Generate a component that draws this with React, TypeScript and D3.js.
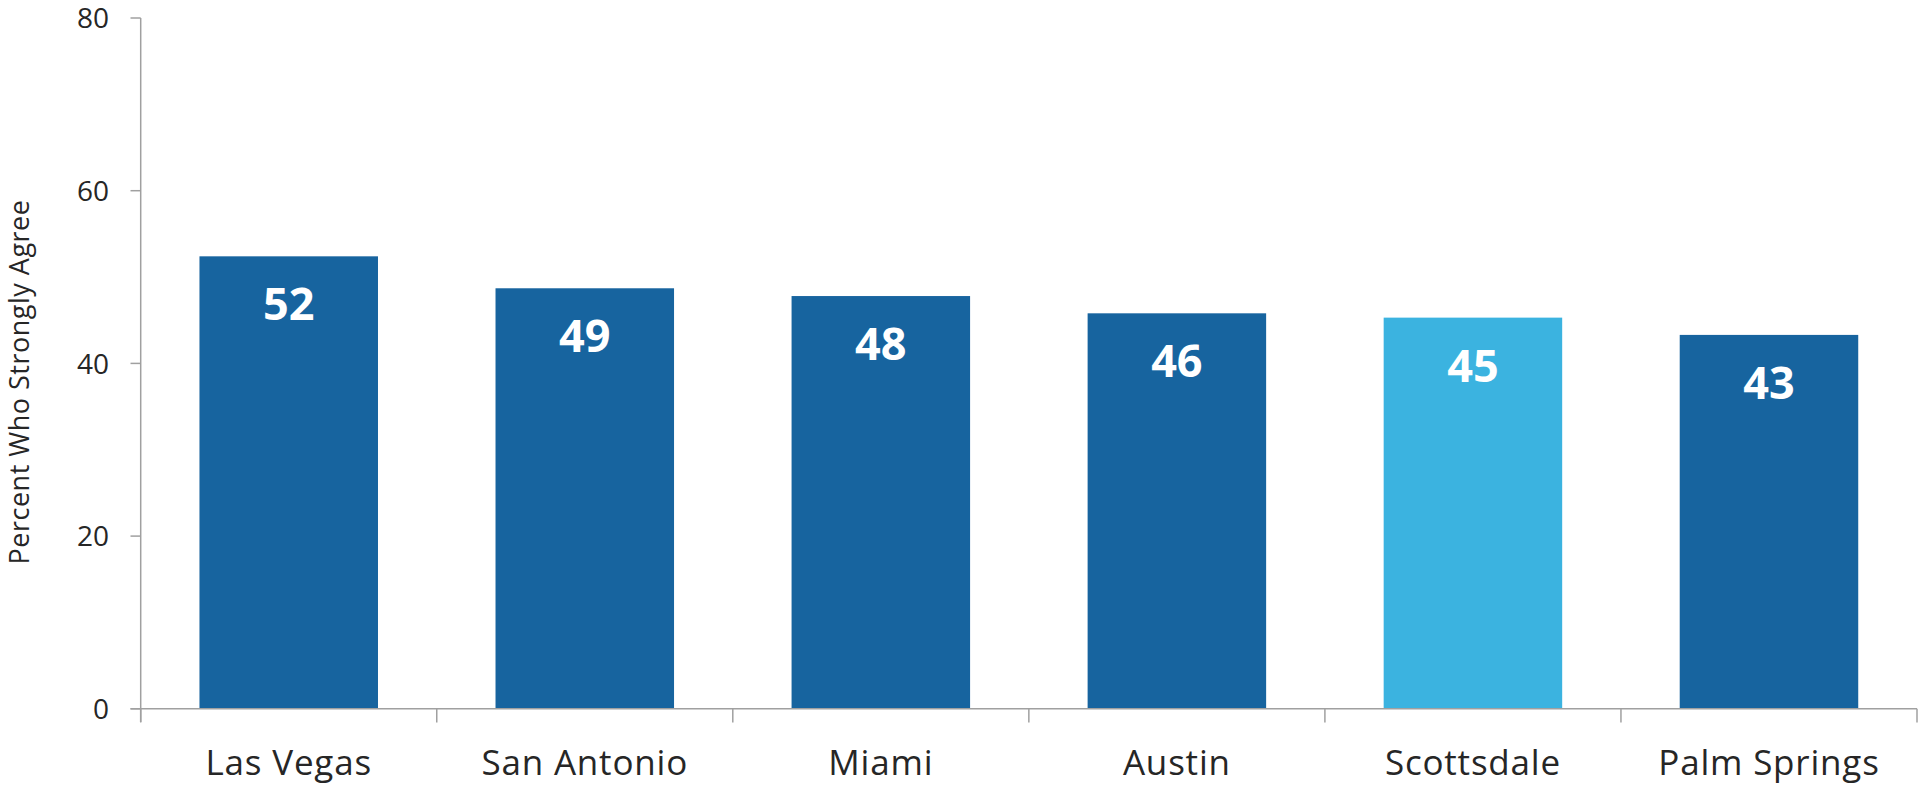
import React from "react";
import * as d3 from "d3";

const categories = ["Las Vegas", "San Antonio", "Miami", "Austin", "Scottsdale", "Palm Springs"];
const values = [52.4, 48.7, 47.8, 45.8, 45.3, 43.3];
const valueLabels = ["52", "49", "48", "46", "45", "43"];
const highlighted = ["Scottsdale"];
const yTicks = [0, 20, 40, 60, 80];
const yTitle = "Percent Who Strongly Agree";

const W = 1919;
const H = 785;
const FONT = "'Open Sans', 'Noto Sans', sans-serif";
const DARK = "#17649F";
const LIGHT = "#3BB3E0";
const AXIS = "#A0A0A0";
const TEXT = "#262626";

export default function App() {
  const x = d3.scaleBand<string>().domain(categories).range([140.7, 1917]).paddingInner(0.397).paddingOuter(0.1985);
  const y = d3.scaleLinear().domain([0, 80]).range([708.8, 18]);
  const step = x.step();
  const boundaries = d3.range(categories.length + 1).map((i) => 140.7 + i * step);

  return (
    <div style={{ position: "absolute", left: 0, top: 0 }}>
      <svg width={W} height={H} style={{ display: "block", background: "#fff" }}>
        {categories.map((c, i) => (
          <rect
            key={c}
            x={x(c)}
            y={y(values[i])}
            width={x.bandwidth()}
            height={y(0) - y(values[i])}
            fill={highlighted.includes(c) ? LIGHT : DARK}
          />
        ))}
        {categories.map((c, i) => (
          <text
            key={"v" + c}
            x={(x(c) as number) + x.bandwidth() / 2}
            y={y(values[i]) + 64}
            textAnchor="middle"
            fontFamily={FONT}
            fontWeight={700}
            fontSize={45}
            fill="#fff"
          >
            {valueLabels[i]}
          </text>
        ))}
        {/* y axis */}
        <line x1={140.7} x2={140.7} y1={y(80)} y2={722} stroke={AXIS} strokeWidth={1.5} />
        {yTicks.map((t) => (
          <g key={"yt" + t}>
            <line x1={130.5} x2={140.7} y1={y(t)} y2={y(t)} stroke={AXIS} strokeWidth={1.5} />
            <text
              x={109}
              y={y(t)}
              dy="0.37em"
              textAnchor="end"
              fontFamily={FONT}
              fontSize={28}
              fill={TEXT}
            >
              {t}
            </text>
          </g>
        ))}
        {/* x axis */}
        <line x1={130.5} x2={1917} y1={y(0)} y2={y(0)} stroke={AXIS} strokeWidth={1.5} />
        {boundaries.map((b, i) => (
          <line key={"xt" + i} x1={b} x2={b} y1={y(0)} y2={722.5} stroke={AXIS} strokeWidth={1.5} />
        ))}
        {categories.map((c) => (
          <text
            key={"c" + c}
            x={(x(c) as number) + x.bandwidth() / 2}
            y={775}
            textAnchor="middle"
            fontFamily={FONT}
            fontSize={35}
            letterSpacing={0.8}
            fill={TEXT}
          >
            {c}
          </text>
        ))}
        <text
          transform={`translate(29, ${382}) rotate(-90)`}
          textAnchor="middle"
          fontFamily={FONT}
          fontSize={27}
          letterSpacing={0.5}
          fill={TEXT}
        >
          {yTitle}
        </text>
      </svg>
    </div>
  );
}
